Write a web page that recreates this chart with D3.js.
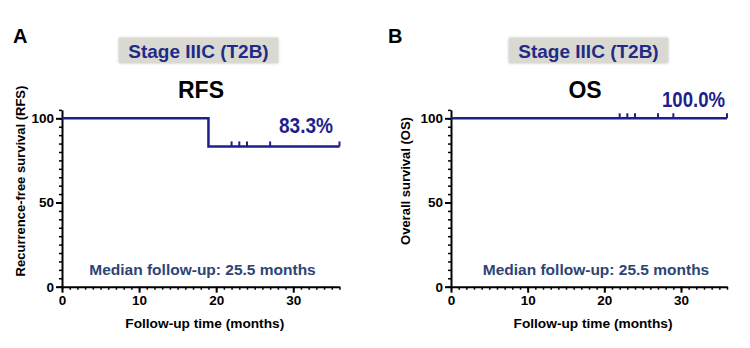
<!DOCTYPE html>
<html>
<head>
<meta charset="utf-8">
<script src="https://cdn.jsdelivr.net/npm/d3@7"></script>
<style>
  body { margin: 0; background: #fff; }
  svg text { font-family: "Liberation Sans", Arial, sans-serif; }
</style>
</head>
<body>
<div id="chart"></div>
<script>
// survival curves (time in months, survival in %)
const rfsTimes = [0, 19, 36];
const rfsSurvival = [100, 83.3, 83.3];
const rfsCensored = [22, 23, 24, 27, 36];

const osTimes = [0, 36];
const osSurvival = [100, 100];
const osCensored = [22, 23, 24, 27, 29, 36];

const xTicks = [0, 10, 20, 30];
const yTicks = [0, 50, 100];

const lineColor = '#1c1f8c';
const titleColor = '#1f2b86';
const noteColor = '#2d4475';

const svg = d3.select('#chart')
    .append('svg')
      .attr('width', 750)
      .attr('height', 348);

// soft shadow behind the title boxes
const defs = svg.append('defs');
defs.append('filter')
    .attr('id', 'boxShadow')
    .attr('x', '-10%').attr('y', '-30%')
    .attr('width', '120%').attr('height', '160%')
  .append('feDropShadow')
    .attr('dx', 0).attr('dy', 0)
    .attr('stdDeviation', 1.5)
    .attr('flood-color', '#888')
    .attr('flood-opacity', 0.6);

function drawPanel(cfg) {

    const xScale = d3.scaleLinear()
        .domain([0, 36])
        .range([cfg.left, cfg.right]);

    const yScale = d3.scaleLinear()
        .domain([0, 105])
        .range([286.7, 286.7 - 105 * 1.684]);

    const g = svg.append('g');

    // panel letter
    g.append('text')
        .attr('x', cfg.letterX)
        .attr('y', 43)
        .style('font-size', '20px')
        .style('font-weight', 'bold')
        .text(cfg.letter);

    // title box
    const boxW = 159, boxH = 25;
    const boxCx = cfg.boxCx;
    g.append('rect')
        .attr('x', boxCx - boxW / 2)
        .attr('y', 38)
        .attr('width', boxW)
        .attr('height', boxH)
        .attr('fill', '#d9d9d2')
        .attr('filter', 'url(#boxShadow)');
    g.append('text')
        .attr('x', boxCx)
        .attr('y', 57.5)
        .attr('text-anchor', 'middle')
        .style('font-size', '19px')
        .style('font-weight', 'bold')
        .style('fill', titleColor)
        .text('Stage IIIC (T2B)');

    // plot title
    g.append('text')
        .attr('x', cfg.titleCx)
        .attr('y', 98)
        .attr('text-anchor', 'middle')
        .style('font-size', '23px')
        .style('font-weight', 'bold')
        .text(cfg.title);

    // minor ticks (y every 5, x every 1)
    const yMinor = d3.axisLeft(yScale)
        .tickValues(d3.range(0, 106, 5))
        .tickSize(3)
        .tickFormat('');
    g.append('g')
        .attr('transform', `translate(${cfg.left},0)`)
        .call(yMinor)
        .call(a => a.select('.domain').remove())
        .selectAll('line').attr('stroke', '#000').attr('stroke-width', 1.5);

    const xMinor = d3.axisBottom(xScale)
        .tickValues(d3.range(0, 37, 1))
        .tickSize(3)
        .tickFormat('');
    g.append('g')
        .attr('transform', `translate(0,${yScale(0)})`)
        .call(xMinor)
        .call(a => a.select('.domain').remove())
        .selectAll('line').attr('stroke', '#000').attr('stroke-width', 1.5);

    // major axes
    const yAxis = d3.axisLeft(yScale)
        .tickValues(yTicks)
        .tickSize(6)
        .tickSizeOuter(0)
        .tickPadding(2);
    const yG = g.append('g')
        .attr('transform', `translate(${cfg.left},0)`)
        .call(yAxis);
    yG.select('.domain').attr('stroke-width', 2);
    yG.selectAll('line').attr('stroke-width', 2);
    yG.selectAll('text')
        .style('font-size', '13.5px')
        .style('font-weight', 'bold')
        .style('font-family', '"Liberation Sans", Arial, sans-serif')
        .attr('fill', '#000');

    const xAxis = d3.axisBottom(xScale)
        .tickValues(xTicks)
        .tickSize(6)
        .tickSizeOuter(0)
        .tickPadding(3);
    const xG = g.append('g')
        .attr('transform', `translate(0,${yScale(0)})`)
        .call(xAxis);
    xG.select('.domain').attr('stroke-width', 2);
    xG.selectAll('line').attr('stroke-width', 2);
    xG.selectAll('text')
        .style('font-size', '13.5px')
        .style('font-weight', 'bold')
        .style('font-family', '"Liberation Sans", Arial, sans-serif')
        .attr('fill', '#000');

    // axis labels
    g.append('text')
        .attr('text-anchor', 'middle')
        .attr('transform', `translate(${cfg.yLabelX},181) rotate(-90)`)
        .style('font-size', '13px')
        .style('font-weight', 'bold')
        .text(cfg.yLabel);

    g.append('text')
        .attr('x', (cfg.left + cfg.right) / 2 + 4)
        .attr('y', 328)
        .attr('text-anchor', 'middle')
        .style('font-size', '13.7px')
        .style('font-weight', 'bold')
        .text('Follow-up time (months)');

    // survival curve
    const pts = cfg.times.map((t, i) => [t, cfg.survival[i]]);
    const line = d3.line()
        .x(d => xScale(d[0]))
        .y(d => yScale(d[1]))
        .curve(d3.curveStepAfter);
    g.append('path')
        .datum(pts)
        .attr('d', line)
        .attr('fill', 'none')
        .attr('stroke', lineColor)
        .attr('stroke-width', 2.5);

    // censor marks
    const survAt = t => {
        let s = cfg.survival[0];
        cfg.times.forEach((tt, i) => { if (tt <= t) s = cfg.survival[i]; });
        return s;
    };
    g.append('g')
        .selectAll('line')
        .data(cfg.censored)
        .enter()
        .append('line')
            .attr('x1', d => xScale(d))
            .attr('x2', d => xScale(d))
            .attr('y1', d => yScale(survAt(d)))
            .attr('y2', d => yScale(survAt(d)) - 5)
            .attr('stroke', lineColor)
            .attr('stroke-width', 2);

    // final survival %
    g.append('text')
        .attr('x', cfg.pctX)
        .attr('y', cfg.pctY)
        .attr('textLength', cfg.pctW)
        .attr('lengthAdjust', 'spacingAndGlyphs')
        .style('font-size', '22px')
        .style('font-weight', 'bold')
        .style('fill', lineColor)
        .text(cfg.pct);

    // median follow-up note
    g.append('text')
        .attr('x', cfg.noteCx)
        .attr('y', 275)
        .attr('text-anchor', 'middle')
        .style('font-size', '15.5px')
        .style('font-weight', 'bold')
        .style('fill', noteColor)
        .text('Median follow-up: 25.5 months');
}

drawPanel({
    letter: 'A', letterX: 13,
    left: 62, right: 339.5,
    boxCx: 198.5, title: 'RFS', titleCx: 201,
    yLabel: 'Recurrence-free survival (RFS)', yLabelX: 25,
    times: rfsTimes, survival: rfsSurvival, censored: rfsCensored,
    pct: '83.3%', pctX: 279, pctY: 133, pctW: 54,
    noteCx: 202.5
});

drawPanel({
    letter: 'B', letterX: 388,
    left: 451, right: 727,
    boxCx: 588.5, title: 'OS', titleCx: 585,
    yLabel: 'Overall survival (OS)', yLabelX: 410,
    times: osTimes, survival: osSurvival, censored: osCensored,
    pct: '100.0%', pctX: 662, pctY: 107, pctW: 63,
    noteCx: 596
});
</script>
</body>
</html>
